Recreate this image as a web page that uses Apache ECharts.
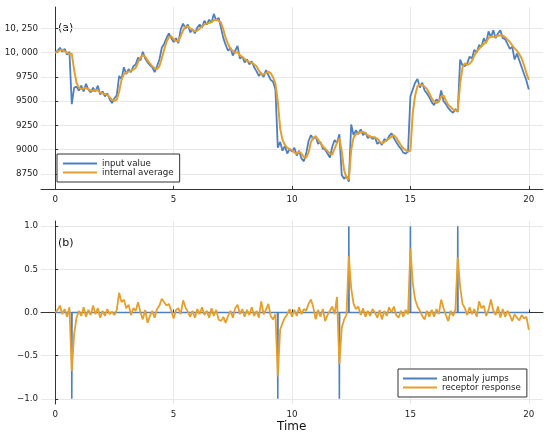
<!DOCTYPE html>
<html>
<head>
<meta charset="utf-8">
<script src="https://cdn.jsdelivr.net/npm/echarts@6/dist/echarts.min.js"></script>
<style>
html,body{margin:0;padding:0;background:#fff;}
#chart{width:550px;height:439px;}
</style>
</head>
<body>
<div id="chart"></div>
<script>
// sample step of the time series (0 .. 20)
const timeStep = 0.1;

const inputValue = [
10000,10020,10050,10010,10040,9980,10010,9470,9640,9650,
9610,9660,9600,9680,9620,9590,9640,9600,9660,9570,
9600,9550,9580,9520,9480,9530,9560,9760,9730,9850,
9780,9830,9800,9860,9880,9950,9920,10010,9940,9900,
9870,9850,9800,9860,9930,10050,10090,10150,10200,10150,
10110,10150,10100,10240,10300,10250,10290,10210,10240,10200,
10260,10290,10260,10330,10290,10340,10310,10400,10330,10360,
10260,10150,10080,10020,10050,9970,10020,10070,9940,9960,
9900,9930,9880,9910,9850,9810,9760,9790,9750,9820,
9770,9720,9700,9620,9020,9080,8990,9040,8960,9010,
8980,9020,8940,8990,8910,8880,8960,9090,9150,9110,
9140,9060,9080,9010,9000,8960,8920,9030,9100,9070,
9160,8740,8700,8730,8670,9260,9150,9200,9160,9210,
9150,9180,9120,9140,9110,9130,9060,9080,9050,9110,
9090,9140,9170,9120,9080,9040,9010,8970,8960,8980,
9550,9620,9690,9730,9640,9690,9610,9580,9540,9490,
9460,9520,9490,9610,9500,9470,9430,9400,9380,9420,
9390,9930,9870,9860,9890,9960,9940,10030,10000,10080,
10060,10150,10100,10220,10160,10230,10150,10200,10230,10150,
10140,10090,10040,10060,9930,9990,9920,9850,9780,9710,
9620
];

const internalAverage = [
10000,10010,10025,10030,10015,10000,9985,9990,9820,9690,
9640,9625,9630,9635,9625,9610,9605,9615,9610,9590,
9580,9575,9565,9540,9515,9505,9515,9600,9720,9780,
9795,9805,9815,9825,9845,9900,9950,9975,9960,9920,
9890,9860,9840,9830,9860,9940,10030,10110,10160,10170,
10140,10120,10120,10170,10230,10270,10270,10250,10235,10220,
10225,10250,10270,10290,10300,10305,10315,10335,10340,10330,
10310,10240,10150,10090,10040,10020,10000,10005,9975,9955,
9935,9915,9905,9895,9880,9860,9820,9775,9775,9790,
9805,9790,9745,9680,9500,9220,9100,9050,9020,9005,
8995,8970,8960,8980,8960,8925,8920,8970,9080,9125,
9135,9105,9070,9035,9010,8985,8960,8950,9010,9070,
9115,8985,8790,8710,8695,9000,9125,9160,9170,9180,
9185,9170,9150,9135,9130,9125,9115,9085,9065,9080,
9100,9115,9135,9150,9125,9085,9045,9015,8995,8980,
8990,9380,9560,9655,9670,9665,9650,9625,9580,9530,
9495,9480,9500,9545,9560,9505,9460,9440,9415,9405,
9400,9680,9850,9890,9875,9885,9915,9970,10010,10040,
10065,10090,10110,10150,10165,10165,10165,10175,10180,10175,
10160,10135,10110,10075,10045,10020,9985,9940,9870,9790,
9720
];

const jumpTimes = [0.7, 9.4, 12.0, 12.4, 15.0, 17.0];
const jumpSizes = [-1, -1, -1, 1, 1, 1];

const receptorResponse = [
0.00,0.03,0.08,-0.02,0.04,-0.05,0.06,-0.68,-0.25,-0.06,
0.02,-0.04,0.06,-0.05,0.03,-0.03,0.08,-0.02,0.05,-0.06,
0.02,-0.04,0.04,-0.02,0.01,-0.03,0.03,0.23,0.12,0.15,
0.05,0.09,-0.03,0.05,0.02,0.12,0.00,-0.08,0.03,-0.12,
-0.04,0.02,-0.06,0.04,0.08,0.16,0.12,0.08,0.10,0.02,
-0.07,0.03,0.05,-0.02,0.14,0.06,0.01,-0.05,0.02,-0.06,
0.04,-0.02,0.06,-0.03,0.02,-0.06,0.05,-0.04,0.03,-0.08,
-0.10,-0.05,-0.12,-0.04,0.02,-0.06,0.05,0.09,-0.02,0.04,
-0.05,0.03,-0.03,0.06,-0.04,0.02,-0.06,0.13,-0.02,0.03,
0.10,-0.04,-0.08,-0.02,-0.74,-0.20,-0.12,-0.06,-0.02,0.04,
-0.05,0.03,-0.04,0.06,-0.02,0.04,0.02,0.10,0.15,0.06,
-0.08,0.03,-0.05,0.04,-0.10,-0.03,0.02,0.07,-0.02,0.18,
-0.60,-0.18,-0.08,-0.03,0.65,0.28,0.10,0.04,0.07,-0.03,
0.05,-0.05,0.02,-0.04,0.04,0.00,-0.06,0.03,-0.08,0.02,
-0.04,0.06,0.00,0.07,-0.03,-0.06,0.02,-0.05,0.03,-0.02,
0.74,0.34,0.15,0.07,0.02,-0.04,-0.08,0.02,-0.05,0.03,
-0.05,0.04,-0.02,0.15,0.05,-0.03,-0.10,0.02,-0.04,0.03,
0.64,0.30,0.10,0.05,-0.03,0.06,-0.02,0.04,-0.05,0.13,
0.05,0.08,-0.04,0.03,0.15,0.02,-0.03,0.07,-0.06,0.04,
-0.05,0.02,-0.03,-0.10,-0.02,-0.06,-0.09,-0.03,-0.07,-0.05,
-0.20
];

const xTicks = [0, 5, 10, 15, 20];
const topTicks = [8750, 9000, 9250, 9500, 9750, 10000, 10250];
const bottomTicks = [-1.0, -0.5, 0.0, 0.5, 1.0];
const timeRange = [0, 20];

// ---- build the library data ----
const times = inputValue.map((_, i) => +(i * timeStep).toFixed(2));
const inputData = inputValue.map((v, i) => [times[i], v]);
const avgData = internalAverage.map((v, i) => [times[i], v]);
const respData = receptorResponse.map((v, i) => [times[i], v]);
const jumpData = [[timeRange[0], 0]];
jumpTimes.forEach((t, k) => {
  jumpData.push([t - 0.01, 0], [t, jumpSizes[k]], [t + 0.01, 0]);
});
jumpData.push([timeRange[1], 0]);

const BLUE = '#4D7FC3';
const ORANGE = '#E69F2B';
const FONT = 'DejaVu Sans';
const AXIS = '#333333';
const GRIDC = '#e8e8e8';

function topFmt(v) {
  if (v >= 10000) {
    const th = Math.floor(v / 1000);
    const rest = String(Math.round(v % 1000)).padStart(3, '0');
    return th + ', ' + rest;
  }
  return String(v);
}
function botFmt(v) {
  const s = Math.abs(v).toFixed(1);
  return v < 0 ? '\u2212' + s : s;
}

function xAxisCfg(gridIndex) {
  return {
    type: 'value', gridIndex: gridIndex, min: -0.6, max: 20.6,
    axisLine: {show: true, lineStyle: {color: AXIS, width: 1}},
    axisTick: {show: true, inside: true, length: 3, customValues: xTicks, lineStyle: {color: AXIS}},
    axisLabel: {customValues: xTicks, fontFamily: FONT, fontSize: 8.7, color: '#222', margin: 6},
    splitLine: {show: true, lineStyle: {color: GRIDC, width: 1}}
  };
}

const option = {
  animation: false,
  backgroundColor: '#fff',
  grid: [
    {left: 41, top: 7, width: 502, height: 182},
    {left: 41, top: 221, width: 502, height: 183}
  ],
  xAxis: [xAxisCfg(0), xAxisCfg(1)],
  yAxis: [
    {
      type: 'value', gridIndex: 0, min: 8595, max: 10471,
      axisLine: {show: true, lineStyle: {color: AXIS, width: 1}},
      axisTick: {show: true, inside: true, length: 3, customValues: topTicks, lineStyle: {color: AXIS}},
      axisLabel: {customValues: topTicks, formatter: topFmt, fontFamily: FONT, fontSize: 8.7, color: '#222', margin: 3},
      splitLine: {show: true, lineStyle: {color: GRIDC, width: 1}}
    },
    {
      type: 'value', gridIndex: 1, min: -1.06, max: 1.06,
      axisLine: {show: true, lineStyle: {color: AXIS, width: 1}},
      axisTick: {show: true, inside: true, length: 3, customValues: bottomTicks, lineStyle: {color: AXIS}},
      axisLabel: {customValues: bottomTicks, formatter: botFmt, fontFamily: FONT, fontSize: 8.7, color: '#222', margin: 3},
      splitLine: {show: true, lineStyle: {color: GRIDC, width: 1}}
    }
  ],
  legend: [
    {
      data: ['input value', 'internal average'],
      orient: 'vertical', left: 57, top: 154,
      icon: 'rect', itemWidth: 34, itemHeight: 2, itemGap: 0,
      padding: [5, 6, 5, 6],
      borderColor: '#333', borderWidth: 1, backgroundColor: '#fff',
      textStyle: {fontFamily: FONT, fontSize: 8.7, lineHeight: 9, color: '#222'}
    },
    {
      data: ['anomaly jumps', 'receptor response'],
      orient: 'vertical', left: 398, top: 369,
      icon: 'rect', itemWidth: 34, itemHeight: 2, itemGap: 0,
      padding: [5, 6, 5, 5],
      borderColor: '#333', borderWidth: 1, backgroundColor: '#fff',
      textStyle: {fontFamily: FONT, fontSize: 8.7, lineHeight: 9, color: '#222'}
    }
  ],
  graphic: [
    {type: 'text', left: 58, top: 23, style: {text: '(a)', fontFamily: FONT, fontSize: 11, fill: '#111'}},
    {type: 'text', left: 58, top: 238, style: {text: '(b)', fontFamily: FONT, fontSize: 11, fill: '#111'}},
    {type: 'text', left: 277, top: 421, style: {text: 'Time', fontFamily: FONT, fontSize: 12, fill: '#111'}}
  ],
  series: [
    {name: 'input value', type: 'line', xAxisIndex: 0, yAxisIndex: 0, data: inputData,
     symbol: 'none', lineStyle: {color: BLUE, width: 1.8}, itemStyle: {color: BLUE}, z: 2},
    {name: 'internal average', type: 'line', xAxisIndex: 0, yAxisIndex: 0, data: avgData,
     symbol: 'none', lineStyle: {color: ORANGE, width: 2}, itemStyle: {color: ORANGE}, z: 3},
    {name: 'anomaly jumps', type: 'line', xAxisIndex: 1, yAxisIndex: 1, data: jumpData,
     symbol: 'none', lineStyle: {color: BLUE, width: 1.6}, itemStyle: {color: BLUE}, z: 2},
    {name: 'receptor response', type: 'line', xAxisIndex: 1, yAxisIndex: 1, data: respData,
     symbol: 'none', lineStyle: {color: ORANGE, width: 1.8}, itemStyle: {color: ORANGE}, z: 3}
  ]
};

const chart = echarts.init(document.getElementById('chart'), null, {renderer: 'canvas'});
chart.setOption(option);
</script>
</body>
</html>
